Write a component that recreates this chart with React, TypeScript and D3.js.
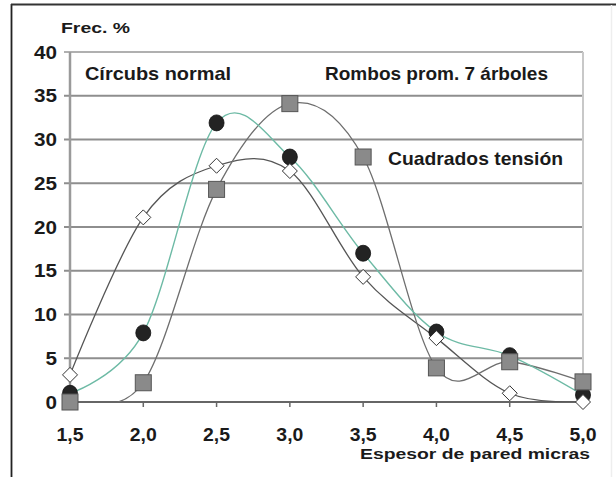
import React from "react";
import * as d3 from "d3";

const xValues = [1.5, 2.0, 2.5, 3.0, 3.5, 4.0, 4.5, 5.0];
const xTickLabels = ["1,5", "2,0", "2,5", "3,0", "3,5", "4,0", "4,5", "5,0"];
const circulosNormal = [1.0, 7.9, 31.9, 28.0, 17.0, 8.0, 5.3, 0.8];
const rombosProm = [3.1, 21.1, 27.0, 26.4, 14.3, 7.3, 1.0, 0.0];
const cuadradosTension = [0.0, 2.2, 24.3, 34.1, 28.0, 3.9, 4.6, 2.3];
const yTicks = [0, 5, 10, 15, 20, 25, 30, 35, 40];

const W = 616;
const H = 477;
const FONT = "'Liberation Sans', Arial, sans-serif";

export default function App() {
  const x = d3.scaleLinear().domain([1.5, 5.0]).range([70, 583]);
  const y = d3.scaleLinear().domain([0, 40]).range([402, 52]);

  const line = d3
    .line<number>()
    .x((_, i) => x(xValues[i]))
    .y((d) => y(d))
    .curve(d3.curveCardinal.tension(0));

  const labelW = (s: string) =>
    s.split("").reduce((a, c) => a + (c === "," ? 4 : 11.5), 0);

  return (
    <svg
      width={W}
      height={H}
      style={{ position: "absolute", left: 0, top: 0, background: "#fff" }}
    >
      <defs>
        <clipPath id="plotClip">
          <rect x={64} y={40} width={522} height={362} />
        </clipPath>
      </defs>
      {/* outer frame */}
      <line x1={11.5} x2={11.5} y1={4} y2={H} stroke="#222" strokeWidth={1.8} />
      <line x1={11} x2={W} y1={4.5} y2={4.5} stroke="#333" strokeWidth={1.8} />
      <line x1={611.5} x2={611.5} y1={5} y2={H} stroke="#eee" strokeWidth={1.5} />

      {/* gridlines */}
      {yTicks.map((t) =>
        t === 0 ? null : (
          <line
            key={t}
            x1={64}
            x2={583}
            y1={y(t)}
            y2={y(t)}
            stroke={t === 40 ? "#b0b0b0" : "#8e8e8e"}
            strokeWidth={2}
          />
        )
      )}
      <line x1={583} x2={583} y1={y(40)} y2={y(0)} stroke="#c8c8c8" strokeWidth={2} />
      {/* y axis */}
      <line x1={70} x2={70} y1={y(40)} y2={y(0)} stroke="#9a9a9a" strokeWidth={2.5} />
      <line x1={64} x2={70} y1={y(0)} y2={y(0)} stroke="#777" strokeWidth={2} />
      {/* x axis */}
      <line x1={64} x2={583} y1={y(0)} y2={y(0)} stroke="#666" strokeWidth={2} />
      {xValues.map((v) => (
        <line key={v} x1={x(v)} x2={x(v)} y1={y(0)} y2={y(0) + 5} stroke="#666" strokeWidth={1.5} />
      ))}

      {/* y tick labels */}
      {yTicks.map((t) => (
        <text
          key={t}
          x={57}
          y={y(t) + 6.5}
          textAnchor="end"
          fontFamily={FONT}
          fontWeight="bold"
          fontSize={18}
          fill="#1a1a1a"
          textLength={labelW(String(t))}
          lengthAdjust="spacingAndGlyphs"
        >
          {t}
        </text>
      ))}
      {/* x tick labels */}
      {xValues.map((v, i) => (
        <text
          key={v}
          x={x(v)}
          y={441}
          textAnchor="middle"
          fontFamily={FONT}
          fontWeight="bold"
          fontSize={17.5}
          fill="#1a1a1a"
          textLength={labelW(xTickLabels[i])}
          lengthAdjust="spacingAndGlyphs"
        >
          {xTickLabels[i]}
        </text>
      ))}

      {/* titles */}
      <text x={61} y={33} fontFamily={FONT} fontWeight="bold" fontSize={15} fill="#1a1a1a" textLength={69} lengthAdjust="spacingAndGlyphs">
        Frec. %
      </text>
      <text x={360} y={459} fontFamily={FONT} fontWeight="bold" fontSize={15} fill="#1a1a1a" textLength={230} lengthAdjust="spacingAndGlyphs">
        Espesor de pared micras
      </text>
      <text x={85} y={80} fontFamily={FONT} fontWeight="bold" fontSize={18.5} fill="#1a1a1a" textLength={146} lengthAdjust="spacingAndGlyphs">
        Círcubs normal
      </text>
      <text x={325} y={80} fontFamily={FONT} fontWeight="bold" fontSize={18.5} fill="#1a1a1a" textLength={223} lengthAdjust="spacingAndGlyphs">
        Rombos prom. 7 árboles
      </text>
      <text x={388} y={165} fontFamily={FONT} fontWeight="bold" fontSize={18.5} fill="#1a1a1a" textLength={175} lengthAdjust="spacingAndGlyphs">
        Cuadrados tensión
      </text>

      {/* curves */}
      <g clipPath="url(#plotClip)" fill="none">
        <path d={line(rombosProm) || ""} stroke="#555" strokeWidth={1.3} />
        <path d={line(cuadradosTension) || ""} stroke="#6e6e6e" strokeWidth={1.3} />
        <path d={line(circulosNormal) || ""} stroke="#6dbaa5" strokeWidth={1.4} />
      </g>

      {/* markers */}
      {circulosNormal.map((v, i) => (
        <ellipse key={"c" + i} cx={x(xValues[i])} cy={y(v)} rx={7.5} ry={8} fill="#232323" stroke="#111" strokeWidth={0.8} />
      ))}
      {cuadradosTension.map((v, i) => (
        <rect key={"s" + i} x={x(xValues[i]) - 8} y={y(v) - 8} width={16} height={16} fill="#8a8a8a" stroke="#555" strokeWidth={1} />
      ))}
      {rombosProm.map((v, i) => {
        const cx = x(xValues[i]);
        const cy = y(v);
        const r = 7.5;
        return (
          <path
            key={"d" + i}
            d={`M${cx},${cy - r}L${cx + r},${cy}L${cx},${cy + r}L${cx - r},${cy}Z`}
            fill="#fff"
            stroke="#333"
            strokeWidth={1}
          />
        );
      })}
    </svg>
  );
}
